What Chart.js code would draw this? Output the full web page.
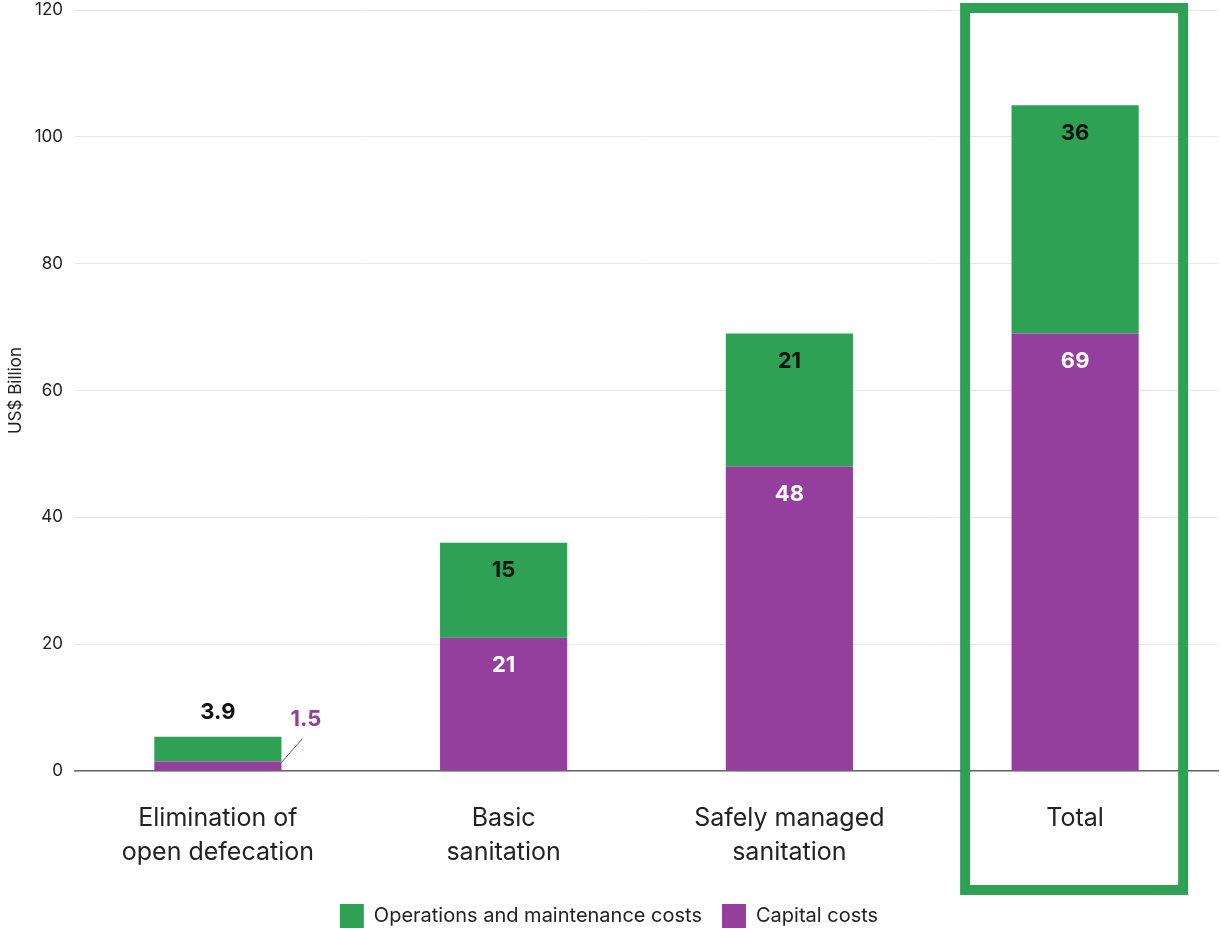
<!DOCTYPE html>
<html>
<head>
<meta charset="utf-8">
<script src="https://cdn.jsdelivr.net/npm/chart.js@4.4.1/dist/chart.umd.min.js"></script>
<style>
  body { margin: 0; background: #fff; }
  #wrap { width: 1221px; height: 930px; position: relative; }
</style>
</head>
<body>
<div id="wrap"><canvas id="chart"></canvas></div>
<script>
// --- Datos ---
const categories = [['Elimination of', 'open defecation'], ['Basic', 'sanitation'], ['Safely managed', 'sanitation'], ['Total']];
const capitalCosts = [1.5, 21, 48, 69];
const omCosts = [3.9, 15, 21, 36];
const yTicks = [0, 20, 40, 60, 80, 100, 120];

const GREEN = '#2ea155';
const PURPLE = '#943f9e';
const FONT = 'Inter, "Noto Sans", sans-serif';

// Etiquetas de valores sobre las barras
const barLabels = {
    id: 'barLabels',
    afterDatasetsDraw(chart) {
        const ctx = chart.ctx;
        const capMeta = chart.getDatasetMeta(0);
        const omMeta = chart.getDatasetMeta(1);
        ctx.save();
        ctx.font = 'bold 22px ' + FONT;
        ctx.textBaseline = 'middle';
        capitalCosts.forEach((v, i) => {
            const capBar = capMeta.data[i];
            const omBar = omMeta.data[i];
            ctx.textAlign = 'center';
            if (omBar.base - omBar.y < 60) {
                // barra pequeña: etiquetas fuera
                ctx.fillStyle = '#111';
                ctx.fillText(String(omCosts[i]), omBar.x, omBar.y - 24);
                const x0 = capBar.x + capBar.width / 2;
                const y0 = capBar.base - 8;
                ctx.strokeStyle = PURPLE;
                ctx.lineWidth = 1;
                ctx.beginPath();
                ctx.moveTo(x0, y0);
                ctx.lineTo(x0 + 21, y0 - 24);
                ctx.stroke();
                ctx.fillStyle = PURPLE;
                ctx.textAlign = 'left';
                ctx.fillText(String(v), x0 + 9, y0 - 43);
            } else {
                ctx.fillStyle = '#111';
                ctx.fillText(String(omCosts[i]), omBar.x, omBar.y + 28);
                ctx.fillStyle = '#fff';
                ctx.fillText(String(v), capBar.x, capBar.y + 28);
            }
        });
        ctx.restore();
    }
};

// Recuadro verde alrededor de "Total"
const totalBox = {
    id: 'totalBox',
    afterDraw(chart) {
        const ctx = chart.ctx;
        const cx = chart.scales.x.getPixelForValue(categories.length - 1);
        ctx.save();
        ctx.strokeStyle = GREEN;
        ctx.lineWidth = 10;
        ctx.strokeRect(cx - 110, 8, 218, 882);
        ctx.restore();
    }
};

new Chart(document.getElementById('chart'), {
    type: 'bar',
    data: {
        labels: categories,
        datasets: [
            { label: 'Capital costs', data: capitalCosts, backgroundColor: PURPLE },
            { label: 'Operations and maintenance costs', data: omCosts, backgroundColor: GREEN }
        ]
    },
    options: {
        responsive: true,
        maintainAspectRatio: false,
        animation: false,
        layout: { padding: { top: 10, right: 3, left: 0, bottom: -8 } },
        datasets: { bar: { categoryPercentage: 1, barPercentage: 0.445 } },
        scales: {
            x: {
                stacked: true,
                grid: { display: false, drawTicks: false },
                border: { display: true, color: '#666', width: 1.5 },
                ticks: { color: '#222', font: { family: FONT, size: 25, lineHeight: 1.36 }, padding: 30, maxRotation: 0 },
                afterFit: (scale) => { scale.height = 113; }
            },
            y: {
                stacked: true,
                min: 0,
                max: 120,
                grid: { color: '#e8e8e8', drawTicks: false },
                border: { display: false },
                afterBuildTicks: (scale) => { scale.ticks = yTicks.map(v => ({ value: v })); },
                ticks: { color: '#222', font: { family: FONT, size: 17 }, padding: 12 },
                title: { display: true, text: 'US$ Billion', color: '#222', font: { family: FONT, size: 17 }, padding: { top: 6, bottom: 2 } },
                afterFit: (scale) => {
                    scale.width = 75;
                    scale.paddingTop = 0;
                    scale.paddingBottom = 0;
                }
            }
        },
        plugins: {
            legend: {
                position: 'bottom',
                reverse: true,
                labels: {
                    boxWidth: 24, boxHeight: 24, padding: 20,
                    color: '#222', font: { family: FONT, size: 20 }
                }
            },
            tooltip: { enabled: false }
        }
    },
    plugins: [barLabels, totalBox]
});
</script>
</body>
</html>
